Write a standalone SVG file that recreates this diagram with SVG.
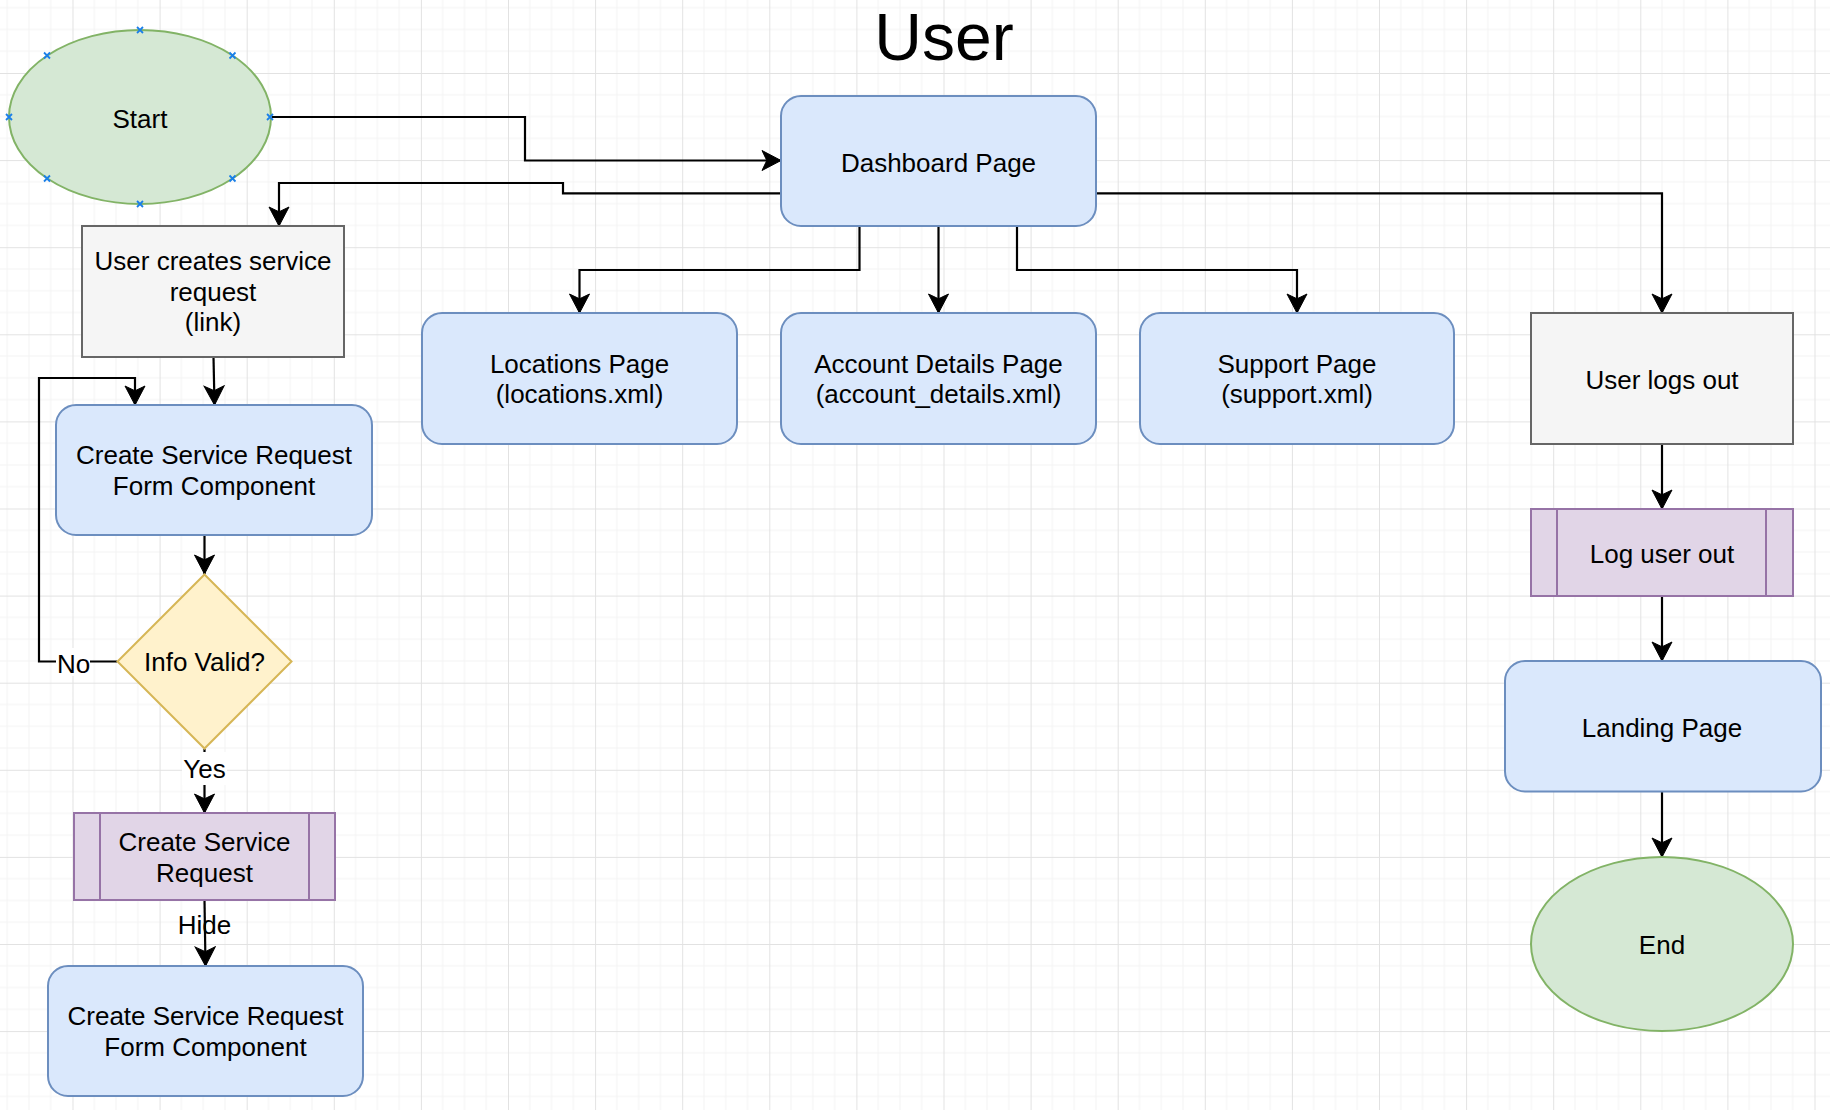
<svg xmlns="http://www.w3.org/2000/svg" width="1830" height="1110" viewBox="0 0 1830 1110">
  <style>
    text { font-family: "Liberation Sans", Arial, Helvetica, sans-serif; font-size: 26px; fill: #000; text-anchor: middle; }
    .title { font-size: 66px; }
    .blue { fill: #dae8fc; stroke: #6c8ebf; stroke-width: 2; }
    .green { fill: #d5e8d4; stroke: #82b366; stroke-width: 2; }
    .yellow { fill: #fff2cc; stroke: #d6b656; stroke-width: 2; }
    .purple { fill: #e1d5e7; stroke: #9673a6; stroke-width: 2; }
    .gray { fill: #f5f5f5; stroke: #666666; stroke-width: 2; }
    .edge { fill: none; stroke: #000; stroke-width: 2.2; }
    .arrow { marker-end: url(#arr); }
    .pt { fill: none; stroke: #1a7fe8; stroke-width: 1.8; }
    .lblbg { fill: #ffffff; stroke: none; }
  </style>
  <defs>
    <pattern id="grid" patternUnits="userSpaceOnUse" x="72.5" y="73" width="87.1" height="87.1">
      <path d="M21.775,0 V87.1 M43.55,0 V87.1 M65.325,0 V87.1 M0,21.775 H87.1 M0,43.55 H87.1 M0,65.325 H87.1" fill="none" stroke="#f3f3f3" stroke-width="1"/>
      <path d="M0.5,0 V87.1 M0,0.5 H87.1" fill="none" stroke="#e2e2e2" stroke-width="1"/>
    </pattern>
    <marker id="arr" markerUnits="userSpaceOnUse" viewBox="0 0 22 22" markerWidth="22" markerHeight="22" refX="20" refY="11" orient="auto">
      <path d="M20,11 L1,1 L5.8,11 L1,21 Z" fill="#000" stroke="#000" stroke-width="1"/>
    </marker>
  </defs>

  <rect x="0" y="0" width="1830" height="1110" fill="#ffffff"/>
  <rect x="0" y="0" width="1830" height="1110" fill="url(#grid)"/>

  <text class="title" x="944" y="60">User</text>

  <g id="connectors">
    <path class="edge arrow" d="M270.5,117 H525 V160.5 H781"/>
    <path class="edge arrow" d="M781,193.3 H563 V183 H279 V226"/>
    <path class="edge arrow" d="M859.5,226 V270 H579.5 V313"/>
    <path class="edge arrow" d="M938.5,226 V313"/>
    <path class="edge arrow" d="M1017,226 V270 H1297 V313"/>
    <path class="edge arrow" d="M1096,193.3 H1662 V313"/>
    <path class="edge arrow" d="M213.5,357 L214.5,405"/>
    <path class="edge arrow" d="M204.5,535 V574"/>
    <path class="edge arrow" d="M117,661.5 H39 V378 H135 V405"/>
    <path class="edge arrow" d="M204.5,749 V813"/>
    <path class="edge arrow" d="M204.5,900 L205.5,966"/>
    <path class="edge arrow" d="M1662,444 V509"/>
    <path class="edge arrow" d="M1662,596 V661"/>
    <path class="edge arrow" d="M1662,791.5 V857"/>
    <g id="edge-labels">
      <rect class="lblbg" x="56" y="648" width="34" height="28"/>
      <text x="73.5" y="672.5">No</text>
      <rect class="lblbg" x="182" y="752" width="45" height="33"/>
      <text x="204.5" y="777.5">Yes</text>
      <text x="204.5" y="934">Hide</text>
    </g>
  </g>

  <g id="start">
    <ellipse class="green" cx="140" cy="117" rx="131" ry="87"/>
    <path class="pt" d="M137,27 l6,6 m0,-6 l-6,6 M137,201 l6,6 m0,-6 l-6,6 M6,114 l6,6 m0,-6 l-6,6 M267,114 l6,6 m0,-6 l-6,6 M44,52.5 l6,6 m0,-6 l-6,6 M229.5,52.5 l6,6 m0,-6 l-6,6 M44,175.5 l6,6 m0,-6 l-6,6 M229.5,175.5 l6,6 m0,-6 l-6,6"/>
    <text x="140" y="128">Start</text>
  </g>

  <g id="dashboard">
    <rect class="blue" x="781" y="96" width="315" height="130" rx="20" ry="20"/>
    <text x="938.5" y="172">Dashboard Page</text>
  </g>

  <g id="locations">
    <rect class="blue" x="422" y="313" width="315" height="131" rx="20" ry="20"/>
    <text x="579.5" y="373">Locations Page</text>
    <text x="579.5" y="403">(locations.xml)</text>
  </g>

  <g id="account">
    <rect class="blue" x="781" y="313" width="315" height="131" rx="20" ry="20"/>
    <text x="938.5" y="373">Account Details Page</text>
    <text x="938.5" y="403">(account_details.xml)</text>
  </g>

  <g id="support">
    <rect class="blue" x="1140" y="313" width="314" height="131" rx="20" ry="20"/>
    <text x="1297" y="373">Support Page</text>
    <text x="1297" y="403">(support.xml)</text>
  </g>

  <g id="user-creates">
    <rect class="gray" x="82" y="226" width="262" height="131"/>
    <text x="213" y="270">User creates service</text>
    <text x="213" y="300.5">request</text>
    <text x="213" y="331">(link)</text>
  </g>

  <g id="form1">
    <rect class="blue" x="56" y="405" width="316" height="130" rx="20" ry="20"/>
    <text x="214" y="464">Create Service Request</text>
    <text x="214" y="494.5">Form Component</text>
  </g>

  <g id="info-valid">
    <polygon class="yellow" points="204.5,574.5 291.5,661.5 204.5,748.5 117.5,661.5"/>
    <text x="204.5" y="671">Info Valid?</text>
  </g>

  <g id="create-request">
    <rect class="purple" x="74" y="813" width="261" height="87"/>
    <path class="purple" d="M100,813 V900 M309,813 V900"/>
    <text x="204.5" y="850.5">Create Service</text>
    <text x="204.5" y="881.5">Request</text>
  </g>

  <g id="form2">
    <rect class="blue" x="48" y="966" width="315" height="130" rx="20" ry="20"/>
    <text x="205.5" y="1025">Create Service Request</text>
    <text x="205.5" y="1056">Form Component</text>
  </g>

  <g id="logs-out">
    <rect class="gray" x="1531" y="313" width="262" height="131"/>
    <text x="1662" y="389">User logs out</text>
  </g>

  <g id="log-user-out">
    <rect class="purple" x="1531" y="509" width="262" height="87"/>
    <path class="purple" d="M1557,509 V596 M1766,509 V596"/>
    <text x="1662" y="563">Log user out</text>
  </g>

  <g id="landing">
    <rect class="blue" x="1505" y="661" width="316" height="130.5" rx="20" ry="20"/>
    <text x="1662" y="737">Landing Page</text>
  </g>

  <g id="end">
    <ellipse class="green" cx="1662" cy="944" rx="131" ry="87"/>
    <text x="1662" y="954">End</text>
  </g>
</svg>
